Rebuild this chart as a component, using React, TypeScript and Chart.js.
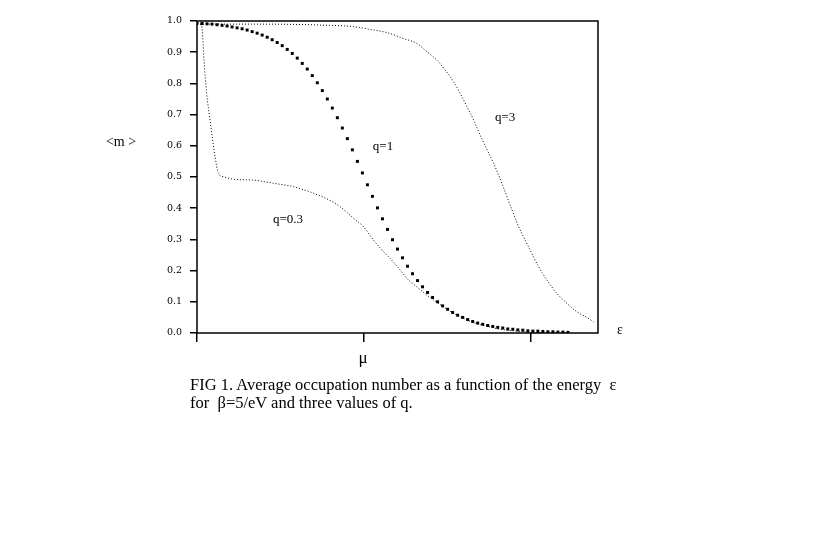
import React, { useEffect, useRef } from "react";
import { Chart, registerables } from "chart.js";

Chart.register(...registerables);

// x = energy relative to mu (eV); y = average occupation number <m>
const X_TICKS = [-1, 0, 1];
const Y_TICKS = [0, 0.1, 0.2, 0.3, 0.4, 0.5, 0.6, 0.7, 0.8, 0.9, 1.0];

const Q1_X = [
  -1.0, -0.97, -0.94, -0.91, -0.88, -0.85, -0.82, -0.79, -0.76, -0.73,
  -0.7, -0.67, -0.64, -0.61, -0.58, -0.55, -0.52, -0.49, -0.46, -0.43,
  -0.4, -0.37, -0.34, -0.31, -0.28, -0.25, -0.22, -0.19, -0.16, -0.13,
  -0.1, -0.07, -0.04, -0.01, 0.02, 0.05, 0.08, 0.11, 0.14, 0.17,
  0.2, 0.23, 0.26, 0.29, 0.32, 0.35, 0.38, 0.41, 0.44, 0.47,
  0.5, 0.53, 0.56, 0.59, 0.62, 0.65, 0.68, 0.71, 0.74, 0.77,
  0.8, 0.83, 0.86, 0.89, 0.92, 0.95, 0.98, 1.01, 1.04, 1.07,
  1.1, 1.13, 1.16, 1.19, 1.22,
];
const Q1_Y = [
  0.993, 0.992, 0.991, 0.99, 0.988, 0.986, 0.984, 0.981, 0.978, 0.975,
  0.971, 0.966, 0.961, 0.955, 0.948, 0.94, 0.931, 0.921, 0.909, 0.896,
  0.881, 0.864, 0.846, 0.825, 0.802, 0.777, 0.75, 0.721, 0.69, 0.657,
  0.623, 0.587, 0.55, 0.513, 0.475, 0.438, 0.401, 0.366, 0.332, 0.299,
  0.269, 0.241, 0.214, 0.19, 0.168, 0.148, 0.13, 0.114, 0.1, 0.087,
  0.076, 0.066, 0.057, 0.05, 0.043, 0.037, 0.032, 0.028, 0.024, 0.021,
  0.018, 0.016, 0.013, 0.012, 0.01, 0.009, 0.007, 0.006, 0.006, 0.005,
  0.004, 0.004, 0.003, 0.003, 0.002,
];

const Q03_X = [
  -0.98, -0.972, -0.966, -0.958, -0.942, -0.922, -0.908, -0.892, -0.872, -0.842,
  -0.782, -0.662, -0.543, -0.423, -0.323, -0.23, -0.144, -0.064, -0.004, 0.056,
  0.116, 0.156, 0.216, 0.256, 0.315, 0.375, 0.415, 0.475, 0.535, 0.595,
  0.655, 0.735, 0.814, 0.894, 0.974, 1.1, 1.21,
];
const Q03_Y = [
  0.99, 0.985, 0.95, 0.875, 0.768, 0.683, 0.625, 0.565, 0.512, 0.501,
  0.493, 0.49, 0.48, 0.469, 0.452, 0.432, 0.405, 0.368, 0.341, 0.298,
  0.261, 0.239, 0.202, 0.175, 0.148, 0.122, 0.106, 0.084, 0.063, 0.047,
  0.033, 0.022, 0.012, 0.007, 0.003, 0.001, 0.0,
];

const Q3_X = [
  -1.0, -0.7, -0.4, -0.263, -0.064, 0.036, 0.136, 0.235, 0.315, 0.375,
  0.435, 0.485, 0.535, 0.575, 0.615, 0.655, 0.695, 0.735, 0.775, 0.815,
  0.855, 0.89, 0.925, 0.964, 1.004, 1.044, 1.094, 1.154, 1.214, 1.274,
  1.333, 1.373,
];
const Q3_Y = [
  0.99, 0.99, 0.989, 0.987, 0.982, 0.973, 0.963, 0.944, 0.928, 0.902,
  0.875, 0.843, 0.806, 0.768, 0.726, 0.683, 0.634, 0.589, 0.544, 0.493,
  0.437, 0.388, 0.341, 0.298, 0.255, 0.213, 0.17, 0.127, 0.095, 0.068,
  0.05, 0.036,
];

const CURVE_LABELS = ["q=0.3", "q=1", "q=3"];
const Y_TITLE = "<m >";
const X_TITLE = "ε";
const MU_LABEL = "μ";
const CAPTION_1 = "FIG 1. Average occupation number as a function of the energy  ε";
const CAPTION_2 = "for  β=5/eV and three values of q.";

const W = 833;
const H = 554;

const pairs = (xs: number[], ys: number[]) => xs.map((x, i) => ({ x, y: ys[i] }));

export default function App() {
  const ref = useRef<HTMLCanvasElement | null>(null);

  useEffect(() => {
    if (!ref.current) return;
    const annot = {
      id: "annot",
      afterDraw(chart: any) {
        const { ctx, chartArea } = chart;
        const xs = chart.scales.x;
        const ys = chart.scales.y;
        ctx.save();
        ctx.strokeStyle = "#000";
        ctx.lineWidth = 1.5;
        ctx.strokeRect(
          chartArea.left,
          chartArea.top,
          chartArea.right - chartArea.left,
          chartArea.bottom - chartArea.top
        );
        ctx.fillStyle = "#000";
        ctx.textAlign = "center";
        ctx.textBaseline = "middle";
        ctx.font = "13px 'Liberation Serif'";
        ctx.fillText(CURVE_LABELS[0], xs.getPixelForValue(-0.455), ys.getPixelForValue(0.363));
        ctx.fillText(CURVE_LABELS[1], xs.getPixelForValue(0.113), ys.getPixelForValue(0.596));
        ctx.fillText(CURVE_LABELS[2], xs.getPixelForValue(0.844), ys.getPixelForValue(0.692));
        ctx.font = "14px 'Liberation Serif'";
        ctx.fillText(Y_TITLE, 121, 142);
        ctx.font = "14px 'Liberation Serif'";
        ctx.fillText(X_TITLE, 620, 330);
        ctx.font = "17px 'Liberation Serif'";
        ctx.fillText(MU_LABEL, xs.getPixelForValue(0) - 1, 359);
        ctx.restore();
      },
    };

    const chart = new Chart(ref.current, {
      type: "line",
      data: {
        datasets: [
          {
            label: CURVE_LABELS[0],
            data: pairs(Q03_X, Q03_Y),
            borderColor: "#000",
            borderWidth: 1,
            borderDash: [1, 2],
            pointRadius: 0,
            cubicInterpolationMode: "monotone",
            fill: false,
          },
          {
            label: CURVE_LABELS[2],
            data: pairs(Q3_X, Q3_Y),
            borderColor: "#000",
            borderWidth: 1,
            borderDash: [1, 2],
            pointRadius: 0,
            cubicInterpolationMode: "monotone",
            fill: false,
          },
          {
            label: CURVE_LABELS[1],
            data: pairs(Q1_X, Q1_Y),
            showLine: false,
            pointStyle: "rect",
            pointRadius: 2.1,
            pointBorderWidth: 0,
            pointBackgroundColor: "#000",
            borderColor: "#000",
          },
        ] as any,
      },
      options: {
        responsive: false,
        animation: false,
        layout: { padding: { top: 21, right: W - 598, left: 0, bottom: 0 } },
        plugins: { legend: { display: false }, tooltip: { enabled: false } },
        scales: {
          x: {
            type: "linear",
            min: -1,
            max: 1.4,
            afterBuildTicks: (s: any) => {
              s.ticks = X_TICKS.map((v) => ({ value: v }));
            },
            afterFit: (s: any) => {
              s.height = H - 333;
            },
            ticks: { callback: () => "" },
            grid: {
              display: true,
              drawOnChartArea: false,
              drawTicks: true,
              tickLength: 9,
              color: "#000",
              lineWidth: 1.5,
            },
            border: { display: false },
          },
          y: {
            type: "linear",
            min: 0,
            max: 1,
            afterBuildTicks: (s: any) => {
              s.ticks = Y_TICKS.map((v) => ({ value: v }));
            },
            afterFit: (s: any) => {
              s.width = 197;
            },
            ticks: {
              callback: (v: any) => Number(v).toFixed(1),
              font: { family: "DejaVu Serif", size: 9.5 },
              color: "#000",
              padding: 8,
            },
            grid: {
              display: true,
              drawOnChartArea: false,
              drawTicks: true,
              tickLength: 7,
              color: "#000",
              lineWidth: 1.5,
            },
            border: { display: false },
          },
        },
      } as any,
      plugins: [annot],
    });
    return () => chart.destroy();
  }, []);

  return (
    <div style={{ position: "absolute", left: 0, top: 0, width: W, height: H, background: "#fff" }}>
      <canvas ref={ref} width={W} height={H} style={{ width: W, height: H, display: "block" }} />
      <div
        style={{
          position: "absolute",
          left: 190,
          top: 376,
          fontFamily: "'Liberation Serif', serif",
          fontSize: 16.5,
          lineHeight: "18px",
          color: "#000",
          whiteSpace: "pre",
        }}
      >
        <div>{CAPTION_1}</div>
        <div>{CAPTION_2}</div>
      </div>
    </div>
  );
}
